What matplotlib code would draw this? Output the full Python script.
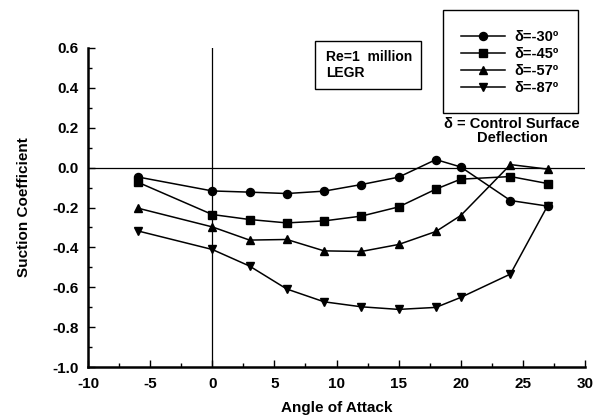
import matplotlib
matplotlib.use("Agg")
import matplotlib.pyplot as plt
from matplotlib.patches import Rectangle
from matplotlib.lines import Line2D
from matplotlib.ticker import MultipleLocator

plt.rcParams['font.family'] = ['Liberation Sans', 'DejaVu Sans']
plt.rcParams['font.weight'] = 'bold'

alpha = [-6, 0, 3, 6, 9, 12, 15, 18, 20, 24, 27]
d30 = [-0.047, -0.117, -0.123, -0.130, -0.118, -0.085, -0.048, 0.040, 0.003, -0.165, -0.193]
d45 = [-0.073, -0.235, -0.260, -0.277, -0.267, -0.243, -0.197, -0.108, -0.058, -0.045, -0.080]
d57 = [-0.203, -0.297, -0.363, -0.360, -0.417, -0.420, -0.385, -0.320, -0.240, 0.015, -0.008]
d87 = [-0.317, -0.410, -0.493, -0.608, -0.672, -0.697, -0.710, -0.700, -0.650, -0.533, -0.190]
labels = ['δ=-30º', 'δ=-45º', 'δ=-57º', 'δ=-87º']
markers = ['o', 's', '^', 'v']
xticks = [-10, -5, 0, 5, 10, 15, 20, 25, 30]
xticklabels = ['-10', '-5', '0', '5', '10', '15', '20', '25', '30']
yticks = [-1.0, -0.8, -0.6, -0.4, -0.2, 0.0, 0.2, 0.4, 0.6]
yticklabels = ['-1.0', '-0.8', '-0.6', '-0.4', '-0.2', '0.0', '0.2', '0.4', '0.6']

fig = plt.figure(figsize=(6, 4.16), dpi=100)
ax = fig.add_axes([0.1467, 0.117, 0.975 - 0.1467, 0.8853 - 0.117])

for ys, m in zip([d30, d45, d57, d87], markers):
    ax.plot(alpha, ys, color='black', lw=1.1, marker=m, markersize=5.8, clip_on=False)

ax.axhline(0, color='black', lw=0.9, zorder=0)
ax.axvline(0, color='black', lw=0.9, zorder=0)

ax.set_xlim(-10, 30)
ax.set_ylim(-1.0, 0.6)
ax.xaxis.set_minor_locator(MultipleLocator(2.5))
ax.yaxis.set_minor_locator(MultipleLocator(0.1))
ax.set_xticks(xticks)
ax.set_xticklabels(xticklabels)
ax.set_yticks(yticks)
ax.set_yticklabels(yticklabels)
ax.tick_params(which='major', direction='in', length=5, width=1, labelsize=11, pad=7)
ax.tick_params(which='minor', direction='in', length=3, width=1)
for s in ['top', 'right']:
    ax.spines[s].set_visible(False)
for s in ['left', 'bottom']:
    ax.spines[s].set_linewidth(1.8)

ax.set_xlabel('Angle of Attack', fontsize=11, fontweight='bold', labelpad=7)
ax.set_ylabel('Suction Coefficient', fontsize=11, fontweight='bold', labelpad=15)

# Re box
fig.patches.append(Rectangle((315 / 600, 1 - 89 / 416), 106 / 600, 48 / 416,
                             transform=fig.transFigure, fill=False, lw=1.0, ec='black'))
fig.text(326 / 600, 1 - 65 / 416, 'Re=1  million\nLEGR', fontsize=10, fontweight='bold',
         va='center', ha='left', linespacing=1.15)

# Legend box
fig.patches.append(Rectangle((443 / 600, 1 - 113 / 416), 135 / 600, 103 / 416,
                             transform=fig.transFigure, fill=False, lw=1.0, ec='black'))
handles = [Line2D([], [], color='black', lw=1.1, marker=m, markersize=5.8) for m in markers]
fig.legend(handles, labels, loc='center', bbox_to_anchor=(510 / 600, 1 - 62.5 / 416),
           frameon=False, handlelength=3.0, handletextpad=0.7,
           labelspacing=0.22, prop={'weight': 'bold', 'size': 10.5})
fig.text(512 / 600, 1 - 131 / 416, 'δ = Control Surface\nDeflection', fontsize=10.5,
         fontweight='bold', ha='center', va='center', linespacing=1.0)

fig.savefig('out.png', dpi=100)
